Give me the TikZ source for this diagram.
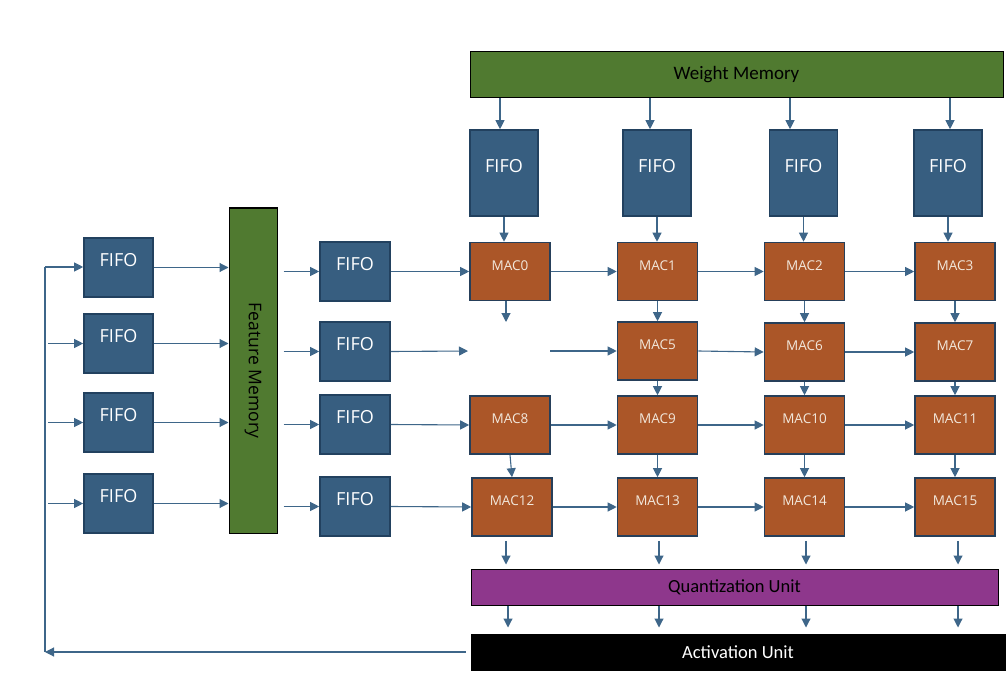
\documentclass[tikz,border=0pt]{standalone}
\usepackage{fontspec}
\setmainfont{Carlito}
\newfontfamily\osans{Open Sans}
\usetikzlibrary{arrows.meta}
\definecolor{fifoF}{HTML}{375E80}
\definecolor{fifoB}{HTML}{22415F}
\definecolor{macF}{HTML}{AB5628}
\definecolor{macB}{HTML}{263F5A}
\definecolor{memG}{HTML}{507A30}
\definecolor{quantP}{HTML}{8E378C}
\definecolor{arrC}{HTML}{3E6689}
\definecolor{macT}{HTML}{F2E8DC}
\begin{document}
\begin{tikzpicture}[x=1pt,y=-1pt,
  fifotxt/.style={font=\osans\fontsize{18}{21}\selectfont, text=white, yshift=7pt},
  mactxt/.style={font=\osans\fontsize{13.5}{16}\selectfont, text=macT, yshift=6pt},
  fifo/.style={draw=fifoB, line width=1.6pt, fill=fifoF, inner sep=0pt,
     minimum width=69pt, minimum height=59pt, label={[fifotxt]center:FIFO}},
  colfifo/.style={fifo, minimum width=68pt, minimum height=86pt},
  mac/.style={draw=macB, line width=1.6pt, fill=macF, inner sep=0pt,
     minimum width=80pt, minimum height=58pt},
  bar/.style={draw=black, line width=1pt, inner sep=0pt},
  arr/.style={draw=arrC, line width=1.1pt, -{Triangle[length=9pt,width=9pt]}},
  ln/.style={draw=arrC, line width=1.1pt}
]
\useasboundingbox (0,0) rectangle (1006,687);

% Weight memory and column FIFOs
\node[bar, fill=memG, minimum width=533pt, minimum height=46pt,
  font=\fontsize{19}{22}\selectfont] (wm) at (736.5,74.5) {Weight Memory};
\node[colfifo] (cf1) at (504,173) {};
\node[colfifo] (cf2) at (657,173) {};
\node[colfifo] (cf3) at (803.5,173) {};
\node[colfifo] (cf4) at (948,173) {};

% Left FIFOs
\node[fifo] (lf1) at (118.5,267.5) {};
\node[fifo] (lf2) at (118.5,343.5) {};
\node[fifo] (lf3) at (118.5,422.5) {};
\node[fifo] (lf4) at (118.5,503.5) {};

% Feature memory
\node[bar, fill=memG, minimum width=48pt, minimum height=325pt] (fm) at (253,370.5) {};
\node[font=\osans\fontsize{17.5}{20}\selectfont, rotate=-90] (fmt) at (fm.center) {Feature Memory};

% Middle FIFOs
\node[fifo, minimum width=70pt] (mf1) at (355,271.5) {};
\node[fifo, minimum width=70pt] (mf2) at (355,351.5) {};
\node[fifo, minimum width=70pt] (mf3) at (355,424.5) {};
\node[fifo, minimum width=70pt] (mf4) at (355,506.5) {};

% MAC array
\node[mac, label={[mactxt]center:MAC0}] (m0) at (510,271.5) {};
\node[mac, label={[mactxt]center:MAC1}] (m1) at (657.5,271.5) {};
\node[mac, label={[mactxt]center:MAC2}] (m2) at (804.5,271.5) {};
\node[mac, label={[mactxt]center:MAC3}] (m3) at (955,271.5) {};
\coordinate (m4n) at (506,322);
\coordinate (m4w) at (468,351);
\coordinate (m4e) at (550,351);
\node[mac, label={[mactxt]center:MAC5}] (m5) at (657.5,351) {};
\node[mac, label={[mactxt]center:MAC6}] (m6) at (804.5,352) {};
\node[mac, label={[mactxt]center:MAC7}] (m7) at (955,352) {};
\node[mac, label={[mactxt]center:MAC8}] (m8) at (510,425) {};
\node[mac, label={[mactxt]center:MAC9}] (m9) at (657.5,425) {};
\node[mac, label={[mactxt]center:MAC10}] (m10) at (804.5,425) {};
\node[mac, label={[mactxt]center:MAC11}] (m11) at (955,425) {};
\node[mac, label={[mactxt]center:MAC12}] (m12) at (512,507) {};
\node[mac, label={[mactxt]center:MAC13}] (m13) at (657.5,507) {};
\node[mac, label={[mactxt]center:MAC14}] (m14) at (804.5,507) {};
\node[mac, label={[mactxt]center:MAC15}] (m15) at (955,507) {};

% Quantization and activation
\node[bar, fill=quantP, minimum width=527pt, minimum height=36pt,
  font=\fontsize{18.5}{21}\selectfont] (qu) at (734.5,587) {Quantization Unit};
\node[bar, fill=black, text=white, minimum width=534pt, minimum height=36pt,
  font=\fontsize{18.5}{21}\selectfont] (au) at (738,652) {Activation Unit};

% Weight memory -> column FIFOs
\foreach \c/\x in {cf1/500,cf2/650,cf3/790,cf4/950}{
  \draw[arr] (wm.south -| \x,0) -- (\c.north -| \x,0);
}
% Column FIFOs -> row 0
\draw[arr] (cf1.south) -- (cf1.south |- m0.north);
\draw[arr] (cf2.south) -- (cf2.south |- m1.north);
\draw[arr] (cf3.south) -- (cf3.south |- m2.north);
\draw[arr] (cf4.south) -- (cf4.south |- m3.north);

% Feedback loop
\coordinate (fbB) at (45,652);
\coordinate (fbT) at (45,267);
\draw[arr] ([xshift=-5pt]au.west) -- (fbB);
\draw[ln] (fbB) -- (fbT);
\draw[arr] (fbT) -- (lf1.west |- fbT);
\draw[arr] ([xshift=3pt]fbT |- lf2.west) -- (lf2.west);
\draw[arr] ([xshift=3pt]fbT |- lf3.west) -- (lf3.west);
\draw[arr] ([xshift=3pt]fbT |- lf4.west) -- (lf4.west);

% Left FIFOs -> feature memory
\foreach \f in {lf1,lf2,lf3,lf4}{
  \draw[arr] (\f.east) -- (\f.east -| fm.west);
}
% Feature memory -> middle FIFOs
\foreach \f in {mf1,mf2,mf3,mf4}{
  \draw[arr] ([xshift=6pt]fm.east |- \f.west) -- (\f.west);
}
% Middle FIFOs -> column 0
\draw[arr] (mf1.east) -- (m0.west);
\draw[arr] (mf2.east) -- (m4w);
\draw[arr] (mf3.east) -- (m8.west);
\draw[arr] (mf4.east) -- (m12.west);

% Horizontal MAC links
\draw[arr] (m0.east) -- (m1.west);
\draw[arr] (m1.east) -- (m2.west);
\draw[arr] (m2.east) -- (m3.west);
\draw[arr] (m4e) -- (m5.west);
\draw[arr] (m5.east) -- (m6.west);
\draw[arr] (m6.east) -- (m7.west);
\draw[arr] (m8.east) -- (m9.west);
\draw[arr] (m9.east) -- (m10.west);
\draw[arr] (m10.east) -- (m11.west);
\draw[arr] (m12.east) -- (m13.west);
\draw[arr] (m13.east) -- (m14.west);
\draw[arr] (m14.east) -- (m15.west);

% Vertical MAC links
\draw[arr] (m0.south -| m4n) -- (m4n);
\draw[arr] (m1.south) -- (m5.north);
\draw[arr] (m2.south) -- (m6.north);
\draw[arr] (m3.south) -- (m7.north);
\draw[arr] (m5.south) -- (m9.north);
\draw[arr] (m6.south) -- (m10.north);
\draw[arr] (m7.south) -- (m11.north);
\draw[arr] (m8.south) -- (m12.north);
\draw[arr] (m9.south) -- (m13.north);
\draw[arr] (m10.south) -- (m14.north);
\draw[arr] (m11.south) -- (m15.north);

% Row 3 -> quantization
\foreach \m/\x in {m12/506,m13/659,m14/806,m15/958}{
  \draw[arr] ([yshift=-4pt]\m.south -| \x,0) -- ([yshift=4pt]qu.north -| \x,0);
}
% Quantization -> activation
\foreach \x in {508,659,806,958}{
  \draw[arr] (qu.south -| \x,0) -- ([yshift=6pt]au.north -| \x,0);
}
\end{tikzpicture}
\end{document}
